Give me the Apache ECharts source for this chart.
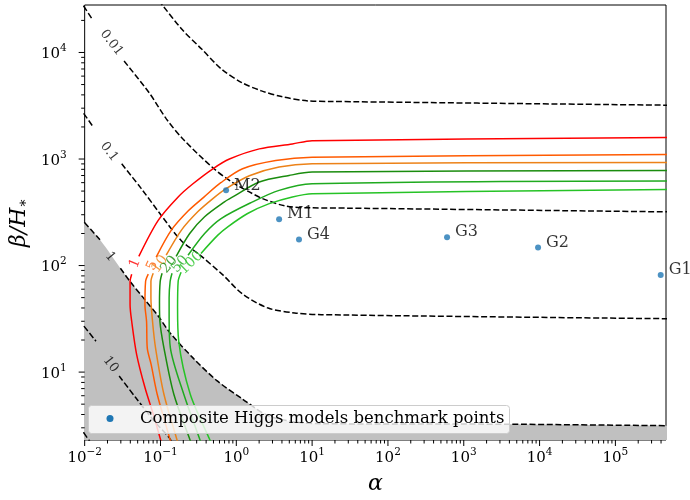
<!DOCTYPE html>
<html><head><meta charset="utf-8">
<script src="https://cdn.jsdelivr.net/npm/echarts@6/dist/echarts.min.js"></script>
<style>html,body{margin:0;padding:0;background:#fff}#c{width:690px;height:500px}</style>
</head><body><div id="c"></div>
<script>
// ---------- axis ranges & ticks ----------
const X_MIN = 0.01, X_MAX = 4.65e5;
const Y_MIN = 2.305, Y_MAX = 27900;
const xMajorTicks = [1e-2, 1e-1, 1e0, 1e1, 1e2, 1e3, 1e4, 1e5];
const yMajorTicks = [1e1, 1e2, 1e3, 1e4];

// ---------- coloured contours (levels 1,5,10,20,50,100) ----------
const snr1 = [[0.117,1.59],[0.101,2.28],[0.0802,4.03],[0.0624,7.16],[0.0485,14.6],[0.0417,30.0],[0.0397,42.9],[0.0397,70.9],[0.0417,83],null,
  [0.0518,122],[0.0933,266],[0.171,441],[0.268,586],[0.491,810],[0.812,1000],[2.01,1245],[5.49,1386],[10,1487],[5e5,1590]];
const snr5 = [[0.156,1.59],[0.135,2.28],[0.0905,6.2],[0.0755,11.7],[0.0669,16.9],[0.0655,30],[0.0624,42.6],[0.0636,70.9],[0.069,83],null,
  [0.0878,120],[0.139,215],[0.231,325],[0.374,439],[0.624,599],[1.21,810],[3.31,967],[10,1041],[5e5,1100]];
const snr10 = [[0.191,1.59],[0.166,2.28],[0.111,6.2],[0.086,16.9],[0.0785,30],[0.0748,49.5],[0.0748,70.9],[0.0802,84.8],null,
  [0.119,125],[0.189,215],[0.312,321],[0.491,425],[0.733,527],[1.485,697],[3.67,840],[10,901],[5e5,928]];
const snr20 = [[0.296,1.59],[0.247,2.28],[0.15,6.2],[0.111,16.9],[0.0982,30],[0.097,44.5],[0.0991,70.9],[0.105,84.8],null,
  [0.161,122],[0.243,200],[0.382,287],[0.698,396],[0.897,441],[2.01,608],[4.97,701],[10,754],[5e5,781]];
const snr50 = [[0.4,1.59],[0.334,2.28],[0.203,6.2],[0.135,16.9],[0.13,32.2],[0.13,49.5],[0.134,70.9],[0.142,84.8],null,
  [0.231,125],[0.382,200],[0.63,276],[1.64,396],[3.67,508],[10,586],[5e5,622]];
const snr100 = [[0.562,1.59],[0.452,2.28],[0.247,6.2],[0.174,19.5],[0.168,39.9],[0.171,70.9],[0.187,86.6],null,
  [0.342,130],[0.571,193],[0.772,231],[1.41,308],[2.72,381],[5.49,441],[10,473],[5e5,519]];
const snrLevels = ['1','5','10','20','50','100'];
const snrColors = ['#ff0000','#ff5a00','#ec8218','#1a8c0e','#1faa1f','#26c326'];

// ---------- dashed contours ----------
const dash0001 = [[0.0802,35600],[0.105,28070],[0.193,16400],[0.352,10700],[0.644,6940],[1.18,5220],[2.15,4360],[3.94,3860],[8.81,3510],[17.8,3470],[5e5,3200]];
const dash001 = [[0.00834,31900],[0.00942,28100],[0.0127,20300],null,[0.0331,8300],[0.0705,4210],[0.12,2370],[0.198,1540],[0.491,827],[0.897,599],[1.485,491],[2.22,425],[4.44,362],[10,348],[28.8,346],[5e5,319]];
const dash01 = [[0.00834,3110],[0.00942,2760],[0.0131,1980],null,[0.0308,901],[0.0559,527],[0.102,297],[0.187,172],[0.329,126],[0.664,81.7],[1.21,54],[2.63,39.9],[5.88,35.9],[13.2,34.6],[5e5,31.7]];
const dash1 = [[0.00834,291],[0.00942,265],[0.0162,172],null,[0.0296,94.4],[0.0397,70.9],[0.0624,47.7],[0.0933,33.6],[0.134,23.3],[0.268,13.6],[0.554,8.32],[1.18,5.65],[2.58,3.92],[5.83,3.41],[13.2,3.28],[4190,3.24],[5e5,3.14]];
const dash10 = [[0.00834,31.1],[0.00942,27.9],[0.0141,19.5],null,[0.0285,9.2],[0.047,5.77],[0.0819,3.5],[0.129,2.44],[0.156,1.97]];
const dash100 = [[0.00834,3.16],[0.0124,2.1]];

// ---------- contour labels ----------
const labelText  = ['0.01','0.1','1','10','1','5','10','20','50','100'];
const labelAlpha = [0.0226,0.0211,0.0217,0.0221,0.0462,0.0778,0.0976,0.13,0.181,0.253];
const labelBeta  = [12300,1170,121,11.8,105,99.6,103,102,103,106];
const labelAngle = [-52,-52,-50,-52,68,65,54,50,48,44];
const labelColor = ['#000','#000','#000','#000'].concat(snrColors);
const labelSize  = [13,13,13,13,14,14,14,14,14,14];

// ---------- benchmark points ----------
const benchNames = ['M2','M1','G4','G3','G2','G1'];
const benchAlpha = [0.733,3.67,6.71,602,9550,3.96e5];
const benchBeta  = [508,272,176,184,148,81.7];
const legendName = 'Composite Higgs models benchmark points';
const POINT_COLOR = '#1f77b4';

const SERIF = '"DejaVu Serif", "Liberation Serif", serif';
function powLabel(v){
  const l = Math.log10(v), e = Math.round(l);
  if (Math.abs(l - e) > 1e-6) return '';
  return '{b|10}{s|' + String(e).replace('-', '\u2212') + '}';
}
const powRich = {
  b:{fontFamily:SERIF, fontSize:15, lineHeight:19, verticalAlign:'bottom', color:'#000'},
  s:{fontFamily:SERIF, fontSize:10.5, lineHeight:10, verticalAlign:'top', color:'#000'}
};
function minorTicks(lo, hi){
  const out = [];
  for (let e = -3; e <= 6; e++) for (let k = 2; k <= 9; k++){
    const v = k * Math.pow(10, e);
    if (v > lo && v < hi) out.push(v);
  }
  return out;
}
function tickSeries(values, dir, len){
  return {
    type:'custom', silent:true, z:6, clip:false,
    data: values.map(v => dir === 'x' ? [v, Y_MIN] : [X_MIN, v]),
    renderItem: (params, api) => {
      const p = api.coord([api.value(0), api.value(1)]);
      const shape = dir === 'x' ? {x1:p[0], y1:p[1], x2:p[0], y2:p[1]+len}
                                : {x1:p[0], y1:p[1], x2:p[0]-len, y2:p[1]};
      return {type:'line', shape, style:{stroke:'#000', lineWidth:1}};
    }
  };
}
function lineSeries(data, color, dashed, z){
  return {type:'line', data, symbol:'none', silent:true, z, connectNulls:false, smooth:0.3,
    lineStyle:{color, width:1.5, type: dashed ? [6,2.6] : 'solid'}, animation:false};
}

const series = [];
// gray excluded region (below the "1" dashed contour)
series.push({type:'line', data: dash1.filter(p => p), symbol:'none', silent:true, z:1, smooth:0.3,
  lineStyle:{width:0}, areaStyle:{color:'#c0c0c0', opacity:1, origin:'start'}, animation:false});
[dash0001, dash001, dash01, dash1, dash10, dash100].forEach(d => series.push(lineSeries(d, '#000', true, 2)));
[snr1, snr5, snr10, snr20, snr50, snr100].forEach((d,i) => series.push(lineSeries(d, snrColors[i], false, 3)));
series.push({type:'scatter', silent:true, z:4, symbolSize:0.1, itemStyle:{color:'rgba(0,0,0,0)'},
  data: labelText.map((t,i) => ({name:t, value:[labelAlpha[i], labelBeta[i]],
    label:{rotate:labelAngle[i], color:labelColor[i], fontSize:labelSize[i]}})),
  label:{show:true, formatter:'{b}', position:'inside', fontFamily:SERIF, fontSize:13}, animation:false});
series.push({name:legendName, type:'scatter', z:5, symbolSize:6,
  itemStyle:{color:POINT_COLOR},
  data: benchNames.map((n,i) => ({name:n, value:[benchAlpha[i], benchBeta[i]]})),
  label:{show:true, formatter:'{b}', position:'right', distance:5, offset:[0,-5], color:'#000', fontFamily:SERIF, fontSize:16},
  animation:false});
series.push(tickSeries(xMajorTicks, 'x', 6));
series.push(tickSeries(minorTicks(X_MIN, X_MAX), 'x', 3.5));
series.push(tickSeries(yMajorTicks, 'y', 6));
series.push(tickSeries(minorTicks(Y_MIN, Y_MAX), 'y', 3.5));

const chart = echarts.init(document.getElementById('c'), null, {renderer:'canvas'});
chart.setOption({
  animation:false,
  backgroundColor:'#fff',
  grid:{left:80, right:24, top:5, bottom:57, show:true, borderColor:'#000', borderWidth:1, backgroundColor:'transparent', containLabel:false},
  xAxis:{type:'log', logBase:10, min:X_MIN, max:X_MAX,
    name:'\u03B1', nameLocation:'middle', nameGap:33,
    nameTextStyle:{fontFamily:SERIF, fontStyle:'italic', fontSize:22, color:'#000'},
    axisLine:{show:false}, axisTick:{show:false}, splitLine:{show:false}, minorTick:{show:false},
    axisLabel:{formatter:powLabel, rich:powRich, margin:7}},
  yAxis:{type:'log', logBase:10, min:Y_MIN, max:Y_MAX,
    name:'{a|\u03B2/H}{b|\u2217}', nameLocation:'middle', nameGap:44, nameRotate:90,
    nameTextStyle:{color:'#000', rich:{a:{fontFamily:SERIF, fontStyle:'italic', fontSize:22, color:'#000'}, b:{fontFamily:SERIF, fontSize:14, color:'#000', padding:[8,0,0,0]}}},
    axisLine:{show:false}, axisTick:{show:false}, splitLine:{show:false}, minorTick:{show:false},
    axisLabel:{formatter:powLabel, rich:powRich, margin:18}},
  // legend frame (matplotlib-style translucent box)
  graphic:[{type:'rect', left:88, top:405, z:10, silent:true,
    shape:{width:421, height:28, r:3},
    style:{fill:'rgba(255,255,255,0.8)', stroke:'#cccccc', lineWidth:1}}],
  legend:{data:[legendName], left:100.5, top:410, orient:'horizontal', z:20,
    icon:'circle', itemWidth:1, itemHeight:1, padding:0, itemStyle:{opacity:0},
    backgroundColor:'transparent', borderWidth:0,
    formatter: name => '{d|}{g|}{t|' + name + '}',
    textStyle:{color:'#000', rich:{
      d:{width:7, height:7, backgroundColor:POINT_COLOR, borderRadius:3.5},
      g:{width:26.5},
      t:{fontFamily:SERIF, fontSize:16.5, color:'#000'}}}},
  series
});
</script></body></html>
